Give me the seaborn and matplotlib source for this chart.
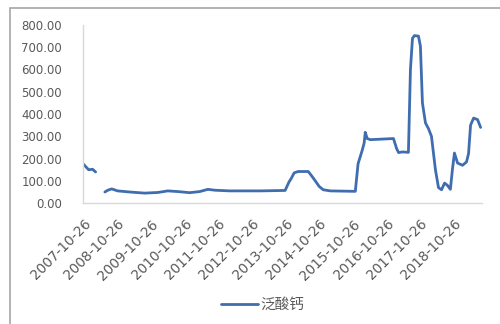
import matplotlib
matplotlib.use("Agg")
import matplotlib.pyplot as plt
import matplotlib.dates as mdates
from matplotlib.patches import Rectangle
from matplotlib.lines import Line2D
import seaborn as sns
import pandas as pd

# ---- data ----
dates = [
    "2007-10-26", "2007-11-16", "2007-12-20", "2008-02-01", "2008-03-05",
    "2008-06-13", "2008-07-15", "2008-08-26", "2008-10-30", "2009-03-10",
    "2009-08-20", "2010-01-10", "2010-04-26", "2010-08-14", "2010-12-20",
    "2011-04-08", "2011-07-05", "2011-09-20", "2012-03-01", "2013-01-24",
    "2013-10-20", "2013-12-01", "2013-12-24", "2014-01-26", "2014-03-10",
    "2014-06-28", "2014-07-30", "2014-09-12", "2014-10-24", "2014-12-08",
    "2015-02-22", "2015-11-20", "2015-12-20", "2016-02-02", "2016-02-24",
    "2016-03-07", "2016-03-28", "2016-05-01", "2017-01-07", "2017-02-10",
    "2017-03-03", "2017-04-16", "2017-06-18", "2017-07-10", "2017-08-01",
    "2017-08-22", "2017-10-05", "2017-10-26", "2017-11-17", "2017-12-20",
    "2018-01-21", "2018-02-23", "2018-04-07", "2018-05-10", "2018-06-12",
    "2018-07-15", "2018-08-15", "2018-09-16", "2018-10-08", "2018-10-30",
    "2018-12-03", "2019-01-26", "2019-03-10", "2019-04-01", "2019-04-23",
    "2019-05-26", "2019-07-08", "2019-08-10",
]
values = [
    175, 165, 150, 152, 140,
    50, 58, 64, 55, 50,
    45, 48, 55, 52, 47,
    52, 62, 58, 55, 55,
    57, 95, 110, 136, 142,
    142, 125, 100, 75, 60,
    55, 53, 177, 236, 270,
    318, 290, 285, 290, 245,
    227, 230, 228, 600, 740,
    752, 750, 705, 450, 360,
    335, 300, 150, 70, 60,
    90, 80, 62, 150, 225,
    180, 170, 185, 222, 350,
    382, 375, 340,
]
# segment id: the series has a gap in 2008
segments = [0] * 5 + [1] * (len(values) - 5)
tick_dates = ["2007-10-26", "2008-10-26", "2009-10-26", "2010-10-26",
              "2011-10-26", "2012-10-26", "2013-10-26", "2014-10-26",
              "2015-10-26", "2016-10-26", "2017-10-26", "2018-10-26"]
series_name = "泛酸钙"

df = pd.DataFrame({"date": pd.to_datetime(dates), "value": values,
                   "seg": segments})

LINE = "#3f6db0"

sns.set_theme(style="white")
plt.rcParams["font.family"] = ["DejaVu Sans", "Noto Sans CJK SC"]

fig = plt.figure(figsize=(5.0, 3.24), dpi=100)
ax = fig.add_axes([0.166, 0.373, 0.798, 0.550])

sns.lineplot(data=df, x="date", y="value", units="seg", estimator=None,
             color=LINE, linewidth=2.0, ax=ax, legend=False)

ax.set_xlim(pd.Timestamp("2007-10-20"), pd.Timestamp("2019-08-25"))
ax.set_ylim(0, 800)
ax.set_yticks(range(0, 801, 100))
ax.set_yticklabels([f"{v:.2f}" for v in range(0, 801, 100)])
ax.set_xticks(pd.to_datetime(tick_dates))
ax.xaxis.set_major_formatter(mdates.DateFormatter("%Y-%m-%d"))
ax.set_xlabel("")
ax.set_ylabel("")
ax.tick_params(axis="y", length=0, labelsize=8.5, colors="#595959", pad=15)
ax.tick_params(axis="x", length=0, labelsize=9.8, colors="#595959", pad=10)
plt.setp(ax.get_xticklabels(), rotation=45, ha="right",
         rotation_mode="anchor")
for s in ["top", "right"]:
    ax.spines[s].set_visible(False)
for s in ["left", "bottom"]:
    ax.spines[s].set_color("#d9d9d9")
    ax.spines[s].set_linewidth(1.0)

# legend
h = Line2D([], [], color=LINE, linewidth=2.0)
fig.legend([h], [series_name], loc="center", bbox_to_anchor=(0.526, 0.059),
           frameon=False, handlelength=2.5, handletextpad=0.2,
           prop={"family": ["Noto Sans CJK SC", "DejaVu Sans"], "size": 10.5},
           labelcolor="#595959")

# chart border (cropped frame)
fig.patches.append(Rectangle((10 / 500, -0.1), 1.2, 1 - 8 / 324 + 0.1,
                             transform=fig.transFigure, fill=False,
                             edgecolor="#a6a6a6", linewidth=1.2))

fig.savefig("out.png", dpi=100)
